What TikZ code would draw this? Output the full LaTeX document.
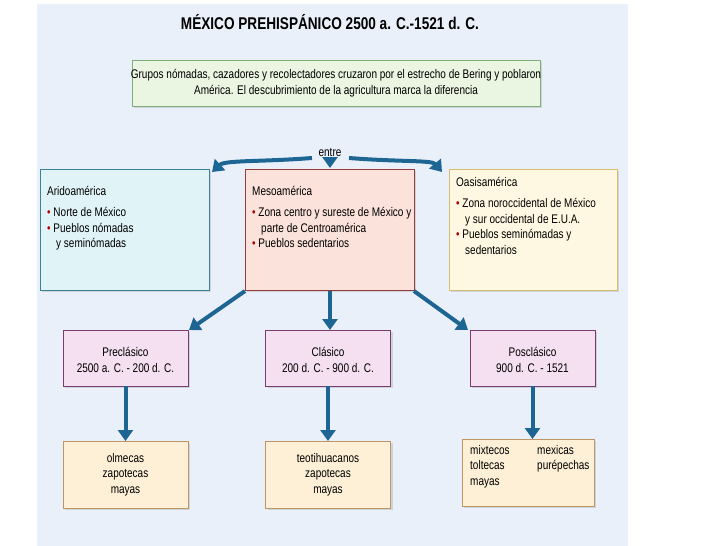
\documentclass[tikz,border=0pt]{standalone}
\usepackage{fontspec}
\setmainfont[FakeStretch=0.8]{Liberation Sans}
\usetikzlibrary{arrows.meta,shadows}
\definecolor{bg}{HTML}{EAF0FA}
\definecolor{arr}{HTML}{1D6694}
\definecolor{gD}{HTML}{7FAF7A}\definecolor{gF}{HTML}{EAF5E2}
\definecolor{cD}{HTML}{3C8296}\definecolor{cF}{HTML}{E0F4F7}
\definecolor{rD}{HTML}{963C3C}\definecolor{rF}{HTML}{FBE2DA}
\definecolor{yD}{HTML}{D7BE6E}\definecolor{yF}{HTML}{FEF8E2}
\definecolor{pD}{HTML}{783C6E}\definecolor{pF}{HTML}{F4E0F0}
\definecolor{oD}{HTML}{BE9664}\definecolor{oF}{HTML}{FDF0D6}
\tikzset{
 box/.style={draw=#1, line width=0.9pt, drop shadow={opacity=0.25,shadow xshift=2pt,shadow yshift=-2pt}},
 bigarrow/.style={draw=arr, line width=4pt, -{Triangle[width=15pt,length=11pt]}},
 txt/.style={font=\fontsize{12.5}{15.5}\selectfont, align=left, inner sep=0pt},
 ctxt/.style={font=\fontsize{12.5}{15.5}\selectfont, align=center, inner sep=0pt},
}
\newcommand{\bul}{\textcolor{red!70!black}{\textbullet}\ }
\begin{document}
\begin{tikzpicture}[x=1pt,y=-1pt]
\useasboundingbox (0,0) rectangle (728,546);
\fill[white] (0,0) rectangle (728,546);
\fill[bg] (37,4) rectangle (628,546);
\node[ctxt,font=\fontsize{17}{19}\selectfont\bfseries] (title) at (330,22) {MÉXICO PREHISPÁNICO 2500 a. C.-1521 d. C.};
\node[box=gD, fill=gF, minimum width=408pt, minimum height=46pt] (top) at (336,83) {};
\node[ctxt] at (top) {Grupos nómadas, cazadores y recolectadores cruzaron por el estrecho de Bering y poblaron\\ América. El descubrimiento de la agricultura marca la diferencia};
\node[ctxt] (entre) at (330,153) {entre};
% region boxes
\node[box=cD, fill=cF, minimum width=169pt, minimum height=121pt] (ari) at (124.5,229.5) {};
\node[box=rD, fill=rF, minimum width=169pt, minimum height=121pt] (meso) at (329.5,229.5) {};
\node[box=yD, fill=yF, minimum width=168pt, minimum height=121pt] (oasi) at (533,229.5) {};
\node[txt,anchor=north west] (aritxt) at (47,186) {Aridoamérica\\[6pt]\bul Norte de México\\ \bul Pueblos nómadas\\ \hspace*{9pt}y seminómadas};
\node[txt,anchor=north west] (mesotxt) at (252,186) {Mesoamérica\\[6pt]\bul Zona centro y sureste de México y\\ \hspace*{9pt}parte de Centroamérica\\ \bul Pueblos sedentarios};
\node[txt,anchor=north west] (oasitxt) at (456,177) {Oasisamérica\\[6pt]\bul Zona noroccidental de México\\ \hspace*{9pt}y sur occidental de E.U.A.\\ \bul Pueblos seminómadas y\\ \hspace*{9pt}sedentarios};
% period boxes
\foreach \n/\x/\t in {pre/125.5/{Preclásico\\2500 a. C. - 200 d. C.}, cla/328/{Clásico\\200 d. C. - 900 d. C.}, pos/532.5/{Posclásico\\900 d. C. - 1521}}{
 \node[box=pD, fill=pF, minimum width=125pt, minimum height=56pt] (\n) at (\x,358) {};
 \node[ctxt] at (\x,360) {\t};
}
% bottom boxes
\tikzset{bot/.style={box=oD, fill=oF, minimum height=67pt}}
\node[bot, minimum width=125pt] (b1) at (125.5,474.5) {};
\node[ctxt] at (b1) {olmecas\\zapotecas\\mayas};
\node[bot, minimum width=125pt] (b2) at (328,474.5) {};
\node[ctxt] at (b2) {teotihuacanos\\zapotecas\\mayas};
\node[bot, minimum width=132pt] (b3) at (528,472.5) {};
\node[txt,anchor=north west] at (470,445) {mixtecos\\toltecas\\mayas};
\node[txt,anchor=north west] at (537,445) {mexicas\\purépechas};
% arrows
\coordinate (eL) at (312,158);
\coordinate (eR) at (349,158);
\coordinate (eC) at (330,163);
\draw[bigarrow] (eL) .. controls (260,162) and (225,160) .. (212,172);
\draw[bigarrow] (eR) .. controls (400,162) and (432,160) .. (442,172);
\draw[bigarrow] (eC) -- (330,168);
\draw[bigarrow] (245,291) -- (189,330);
\draw[bigarrow] (330,291) -- (330,330);
\draw[bigarrow] (414,291) -- (468,330);
\draw[bigarrow] (pre.south) -- (125.5,441);
\draw[bigarrow] (cla.south) -- (328,441);
\draw[bigarrow] (pos.south) -- (532.5,439);
\end{tikzpicture}
\end{document}
